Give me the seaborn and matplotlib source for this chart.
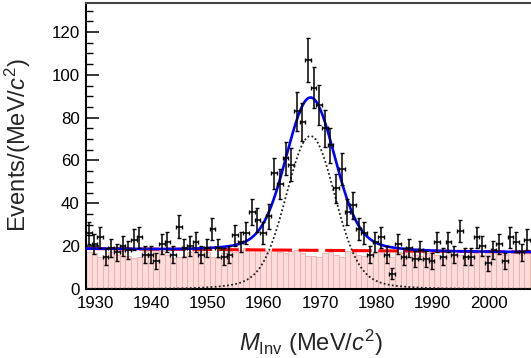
import numpy as np
import pandas as pd
import matplotlib
matplotlib.use("Agg")
import matplotlib.pyplot as plt
from matplotlib.ticker import MultipleLocator
import seaborn as sns

# ---------------- data ----------------
x_lo, x_hi, n_bins = 1928.35, 2008.35, 80

# observed counts per 1 MeV bin (first 79 bins visible)
counts = [26, 21, 24, 15, 19, 17, 20, 18, 23, 24,
          16, 16, 13, 21, 22, 16, 29, 19, 20, 22,
          16, 19, 28, 19, 15, 16, 25, 22, 26, 36,
          32, 26, 34, 54, 49, 61, 58, 83, 78, 107,
          94, 86, 75, 67, 47, 56, 36, 39, 28, 26,
          16, 22, 24, 16, 7, 21, 15, 19, 14, 18,
          14, 13, 22, 15, 22, 16, 27, 15, 15, 24,
          20, 12, 18, 21, 13, 24, 22, 17, 23]

# background histogram (pink), per bin
bkg_hist = [17, 16.5, 15, 15.5, 17, 16, 17.5, 15.5, 14.5, 15,
            17.5, 18, 18, 17.5, 16, 14.5, 15, 15.5, 17, 18,
            18, 17, 15, 14.5, 16.5, 17.5, 17, 18, 19, 18.5,
            18.5, 18, 17.5, 18, 17, 16.5, 17.5, 18, 16.5, 15.5,
            15.5, 15, 16.5, 17, 16, 15, 17.5, 17, 16, 15.5,
            16, 16.5, 17.5, 16, 15, 17, 16.5, 17.5, 16, 15.5,
            16.5, 17, 16, 15.5, 17, 17.5, 16, 15.5, 17, 16.5,
            16, 17, 17.5, 16.5, 16, 17, 16.5, 16, 17, 16.5]

# fit-curve parameters
sig_mean = 1968.3
sig_amp1, sig_sigma1 = 66.0, 4.2
sig_amp2, sig_sigma2 = 5.4, 9.0
bkg_left, bkg_right = 18.8, 17.2

x_ticks = [1930, 1940, 1950, 1960, 1970, 1980, 1990, 2000]
y_ticks = [0, 20, 40, 60, 80, 100, 120]
y_max = 133.7

# ---------------- derived ----------------
edges = np.linspace(x_lo, x_hi, n_bins + 1)
centers = 0.5 * (edges[:-1] + edges[1:])
cnt = np.array(counts, dtype=float)
xc = centers[:len(cnt)]

grid = np.linspace(x_lo, x_hi, 1200)
bkg_curve = bkg_left + (bkg_right - bkg_left) * (grid - x_lo) / (x_hi - x_lo)
sig_curve = (sig_amp1 * np.exp(-0.5 * ((grid - sig_mean) / sig_sigma1) ** 2)
             + sig_amp2 * np.exp(-0.5 * ((grid - sig_mean) / sig_sigma2) ** 2))
tot_curve = bkg_curve + sig_curve
curves = pd.DataFrame({"m": grid, "bkg": bkg_curve, "sig": sig_curve, "tot": tot_curve})
hist_df = pd.DataFrame({"m": centers, "w": np.array(bkg_hist, dtype=float)})

# ---------------- style ----------------
sns.set_theme(style="ticks")
plt.rcParams["font.family"] = ["Liberation Sans", "DejaVu Sans"]
plt.rcParams["mathtext.fontset"] = "custom"
plt.rcParams["mathtext.rm"] = "Liberation Sans"
plt.rcParams["mathtext.it"] = "Liberation Sans:italic"
plt.rcParams["mathtext.bf"] = "Liberation Sans:bold"

W, H = 531, 358
fig = plt.figure(figsize=(W / 100, H / 100), dpi=100)
ax_left, ax_top, ax_bot = 86, 2.7, 288.8
ax_w = 449.6
ax_h = ax_bot - ax_top
ax = fig.add_axes([ax_left / W, (H - ax_bot) / H, ax_w / W, ax_h / H])

# background histogram
sns.histplot(data=hist_df, x="m", weights="w", binwidth=1.0, binrange=(x_lo, x_hi), ax=ax,
             color="#fddcdc", edgecolor="#f4abab", linewidth=0.6, alpha=1.0,
             element="bars", zorder=1)

# fit curves
sns.lineplot(data=curves, x="m", y="sig", ax=ax, color="#222222", linestyle=(0, (1.0, 1.3)),
             linewidth=1.3, zorder=3)
sns.lineplot(data=curves, x="m", y="bkg", ax=ax, color="#ff0000", linestyle=(0, (6.5, 2.2)),
             linewidth=2.2, zorder=4)
sns.lineplot(data=curves, x="m", y="tot", ax=ax, color="#0000ff", linewidth=1.9, zorder=5)

# data points
ax.errorbar(xc, cnt, xerr=0.5, yerr=np.sqrt(cnt), fmt="none", ecolor="black",
            elinewidth=1.1, capsize=1.3, capthick=1.0, zorder=6)

ax.set_xlim(x_lo, x_hi)
ax.set_ylim(0, y_max)
ax.set_xticks(x_ticks)
ax.set_yticks(y_ticks)
ax.xaxis.set_minor_locator(MultipleLocator(2))
ax.yaxis.set_minor_locator(MultipleLocator(5))
ax.tick_params(axis="both", which="both", direction="in", labelsize=12.2, colors="black")
ax.tick_params(axis="y", which="major", length=9.4, width=1.1, pad=4.5)
ax.tick_params(axis="y", which="minor", length=5.0, width=1.0)
ax.tick_params(axis="x", which="major", length=6.0, width=1.1, pad=5.0)
ax.tick_params(axis="x", which="minor", length=3.0, width=1.0)

for s in ["left", "bottom"]:
    ax.spines[s].set_color("black")
    ax.spines[s].set_linewidth(1.5)
ax.spines["top"].set_visible(True)
ax.spines["top"].set_color("#444444")
ax.spines["top"].set_linewidth(1.5)
ax.spines["right"].set_visible(False)

xl = ax.set_xlabel(r"$M_{\rm Inv}$ (MeV/$c^{2}$)", fontsize=18)
yl = ax.set_ylabel(r"Events/(MeV/$c^{2}$)", fontsize=18)
xl.set_verticalalignment("top")
ax.xaxis.set_label_coords((311 - ax_left) / ax_w, (ax_bot - 327) / ax_h)
ax.yaxis.set_label_coords((33 - ax_left) / ax_w, 0.5)

# size the titles so that they span the same length as in the reference
fig.canvas.draw()
r = fig.canvas.get_renderer()
xl.set_fontsize(18 * 144.0 / xl.get_window_extent(r).width)
yl.set_fontsize(18 * 174.0 / yl.get_window_extent(r).height)

# place them where the reference has them (pixel targets)
fig.canvas.draw()
bx = xl.get_window_extent(r)
by = yl.get_window_extent(r)
x_cx = 0.5 * (bx.x0 + bx.x1)
x_top = H - bx.y1
y_right = by.x1
y_cy = H - 0.5 * (by.y0 + by.y1)
ax.xaxis.set_label_coords((311 - ax_left + (311 - x_cx)) / ax_w * 0 + (311 - ax_left) / ax_w
                          + (311 - x_cx) / ax_w,
                          (ax_bot - 327) / ax_h + (x_top - 328) / ax_h)
ax.yaxis.set_label_coords((33 - ax_left) / ax_w + (33 - y_right) / ax_w,
                          0.5 + (y_cy - 145) / ax_h)

fig.savefig("out.png", dpi=100)
